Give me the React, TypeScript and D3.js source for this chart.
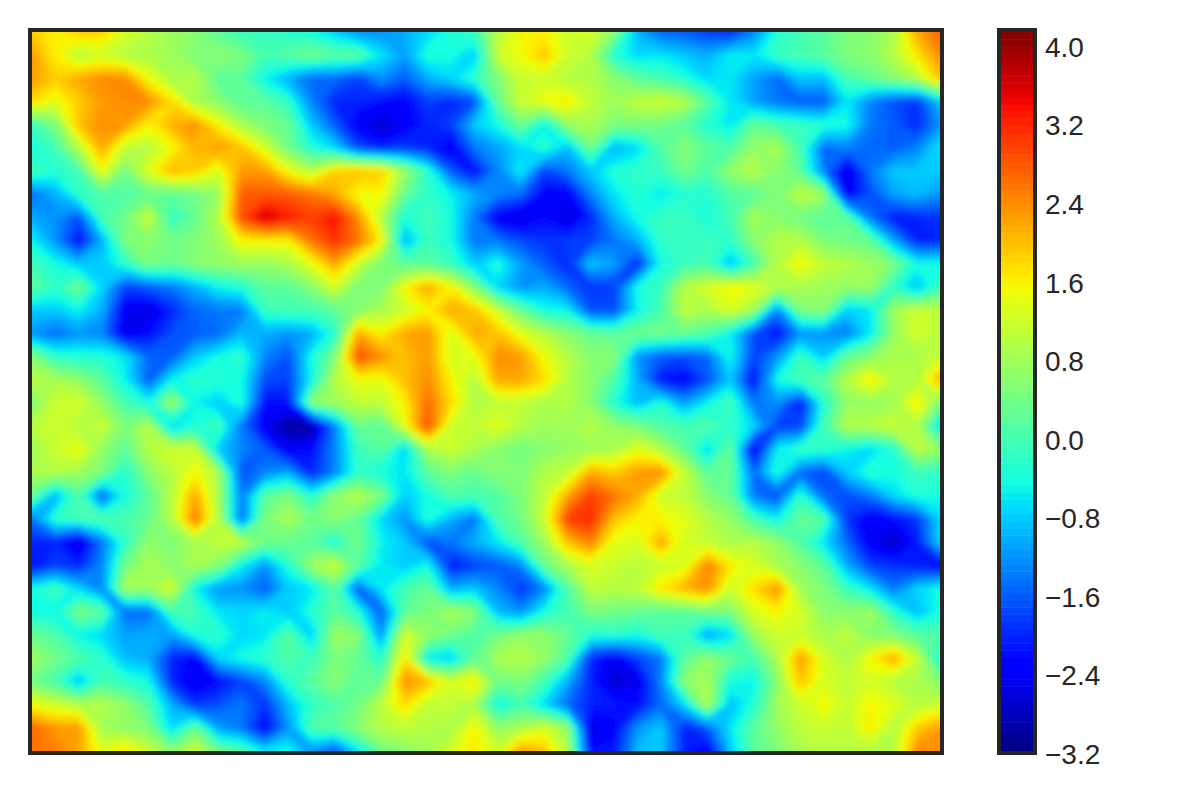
import { useMemo } from "react";
import * as d3 from "d3";

const WIDTH = 1200;
const HEIGHT = 800;

const tickValues = [4.0, 3.2, 2.4, 1.6, 0.8, 0.0, -0.8, -1.6, -2.4, -3.2];
const tickLabels = ["4.0", "3.2", "2.4", "1.6", "0.8", "0.0", "\u22120.8", "\u22121.6", "\u22122.4", "\u22123.2"];
const colorDomain = [-3.17, 4.15];
const levelCount = 100;

// values, 40 columns by 32 rows
const heatRows = [
  [1.9,1.6,1.9,1.9,1.3,1.0,0.8,0.6,0.2,-0.1,-0.1,-0.3,-0.4,-0.8,-1.2,-1.2,-1.0,-0.7,-0.3,-0.1,1.0,1.6,1.6,1.2,1.3,0.6,-1.0,-1.5,-1.6,-1.8,-2.0,-1.3,-0.3,0,0.2,0.5,0.6,0.9,2.2,2.7],
  [2.3,1.6,1.0,1.2,1.0,0.9,0.8,0.5,0.6,0.5,0.0,0.2,0.4,0.2,0.2,-0.6,-1.1,-0.3,-0.4,-0.8,1.2,1.5,2.0,1.2,1.0,-0.3,-0.7,-0.6,-0.8,-1.0,-0.5,-0.6,-0.1,0,0.2,0.5,0.6,1.0,1.7,2.4],
  [2.3,1.9,2.2,2.4,2.4,1.5,0.9,1.0,0.2,0.2,-0.5,-1.0,-1.5,-1.5,-1.8,-1.2,-1.6,-1.0,-0.7,-0.2,0.5,1.2,1.2,1.0,1.0,0.6,0.2,0.0,-0.3,-0.7,-0.6,-1.1,-1.5,-0.8,-0.9,0.0,0.3,0.6,1.0,2.0],
  [1.8,1.4,1.9,2.3,2.4,2.4,1.8,0.9,0.6,0.2,0.2,-0.2,-1.3,-2.0,-2.0,-2.2,-2.3,-1.8,-2.0,-1.7,0.3,1.2,1.5,1.7,1.1,0.8,1.1,1.2,1.0,0.2,-0.6,-1.1,-1.4,-1.6,-1.6,-0.6,-1.3,-1.7,-1.9,-0.8],
  [-0.1,0.5,2.0,2.4,2.3,1.6,2.1,2.4,1.6,0.9,0.5,0.3,-0.8,-1.6,-2.4,-2.7,-2.4,-2.0,-1.8,-0.8,-0.4,0.4,-0.5,0.7,0.9,0.5,0.5,0.4,0.2,-0.3,-0.6,0.3,0.0,-0.1,-0.3,-0.4,-1.4,-1.6,-2.0,-1.2],
  [-0.4,0.0,1.0,2.2,1.1,1.0,1.5,2.1,2.3,2.0,1.3,0.4,-0.3,-0.7,-1.7,-2.0,-1.8,-2.0,-2.4,-1.4,-1.1,-0.7,-0.2,-0.9,0.4,-1.0,-0.7,0.1,0.6,0.2,0.1,0.7,0.9,0.0,-1.5,-1.3,-1.5,-1.6,-1.3,-0.6],
  [0.0,-0.3,0.0,1.5,0.4,1.4,2.1,1.9,1.3,2.3,2.3,1.5,1.0,1.9,2.0,1.9,0.8,-0.2,-1.6,-2.2,-1.3,-0.5,-1.8,-1.4,-0.8,-0.3,-0.2,-0.1,0.4,0.1,0.7,1.0,0.6,0.2,-1.3,-2.6,-1.4,-0.8,-0.8,-0.8],
  [-1.5,-1.0,-0.2,0.1,0.1,0.3,0.2,0.4,0.7,2.8,2.8,2.8,2.6,2.2,1.5,1.6,0.3,-0.2,-0.5,-1.0,-1.3,-1.5,-2.3,-2.4,-1.3,-0.6,-0.3,-0.6,-0.3,-0.3,0.1,0.2,0.5,1.1,0.8,-2.4,-1.7,-1.1,-0.9,-1.2],
  [-1.0,-1.2,-1.7,0.0,0.4,1.2,-0.2,0.3,1.0,2.9,3.7,3.3,3.0,3.4,2.4,1.0,-0.4,0.0,-0.4,-1.4,-2.4,-2.6,-2.2,-2.6,-2.0,-1.0,-0.4,-0.1,-0.1,-0.4,0.0,0.9,0.6,0.4,0.2,0.2,-1.4,-2.1,-2.0,-1.9],
  [-0.5,-1.2,-2.2,-1.0,0.5,0.6,0.4,0.5,0.8,1.6,1.6,1.6,2.6,3.1,2.6,1.6,-1.0,-0.1,-0.4,-1.4,-1.4,-1.7,-1.9,-1.8,-1.8,-1.4,-1.0,-0.2,-0.1,-0.1,-0.2,0.6,1.0,1.0,0.5,0.4,0.3,-1.0,-2.0,-2.0],
  [0.0,-0.4,-0.8,-0.8,-0.2,0.5,0.3,0.6,0.7,0.8,0.7,0.9,1.4,2.2,1.2,0.5,0.2,0.2,-0.1,-0.8,-0.3,-1.1,-1.6,-2.0,-0.8,-1.1,-2.0,-0.4,-0.1,0.0,-0.9,0.0,1.0,1.6,1.1,1.0,0.8,0.5,-0.4,-0.4],
  [0.2,-0.2,0.4,-0.7,-1.8,-1.6,-1.4,-1.0,-0.5,-0.3,0.2,0.2,0.6,1.3,0.5,0.5,1.6,2.2,1.6,0.6,-0.7,-1.2,-1.0,-1.5,-1.9,-1.8,-0.4,-0.1,1.0,1.3,1.6,1.4,1.0,0.9,0.8,0.7,0.8,-0.2,-0.9,-0.1],
  [-0.8,-0.8,-0.5,-1.0,-2.4,-2.6,-2.0,-1.5,-1.4,-1.4,-0.1,0.0,0.0,0.2,0.6,0.9,1.2,1.6,2.2,2.0,1.2,0.3,-0.4,-0.5,-1.7,-1.7,-0.5,0.0,1.1,0.9,1.3,0.8,-1.3,0.5,0.6,-0.8,-0.6,0.8,1.2,1.1],
  [-1.2,-1.5,-1.2,-1.3,-2.5,-2.2,-1.7,-1.6,-1.5,-0.9,-1.0,-1.2,-1.0,-0.3,2.2,1.6,2.2,2.3,1.3,2.2,2.0,1.4,1.0,0.6,0.3,0.2,0.4,0.4,0.3,0.1,-0.5,-1.7,-2.2,-1.2,-1.2,-1.4,-0.6,0.7,1.3,1.0],
  [0.6,-0.2,-0.3,-0.3,-0.6,-1.5,-1.6,-0.8,-0.4,-0.2,-1.3,-1.7,-0.4,0.5,2.9,2.4,2.0,2.3,1.3,1.4,2.4,2.3,1.5,1.0,0.6,0.6,-1.2,-1.6,-1.7,-1.5,-0.4,-1.8,-1.2,-0.1,-0.8,0.3,0.6,0.9,0.9,1.2],
  [1.0,0.9,0.7,0.2,-0.5,-1.6,-0.5,-0.2,-0.3,-0.4,-1.7,-1.8,-0.5,1.0,1.5,1.4,2.0,2.4,1.6,1.0,2.2,2.2,1.8,1.0,0.6,0.1,-1.0,-2.1,-2.3,-1.7,-0.8,-2.2,-0.4,0.0,0.2,1.0,1.7,1.0,1.0,2.2],
  [0.5,1.2,1.3,0.7,0.0,-0.4,0.8,-0.5,-0.8,-0.3,-2.2,-2.2,0.6,0.8,1.1,1.1,1.6,2.7,1.8,0.9,1.1,1.1,0.9,1.0,0.6,-0.3,-0.9,-0.3,-1.1,-0.5,0.0,-1.4,-1.2,-2.1,-0.3,0.7,0.7,0.8,1.7,0.5],
  [1.0,1.2,1.0,1.2,0.5,1.0,-0.8,-0.3,0.0,-1.4,-2.4,-3.0,-3.0,-1.3,0.3,0.2,1.4,2.9,1.2,1.1,1.4,1.0,0.8,0.8,1.0,0.7,0.5,0.1,0.0,0.1,-0.2,-0.7,-1.8,-1.8,0.0,1.0,1.0,1.2,1.0,-0.7],
  [0.8,1.2,1.5,0.7,0.2,1.0,1.3,1.2,-0.8,-1.3,-1.6,-2.4,-2.2,-1.3,-0.1,0.2,-0.8,0.9,1.2,0.9,0.6,0.4,0.6,0.7,0.8,0.9,1.4,1.0,0.3,-0.7,0.3,-2.5,-0.5,-0.1,-0.2,-0.5,-0.7,-0.3,1.1,0.7],
  [0.9,1.0,0.8,0.5,-0.3,0.6,1.0,1.6,0.9,-1.7,-1.3,-1.0,-2.0,-1.3,-0.2,-0.4,-0.6,0.2,0.5,0.3,0.6,0.5,1.0,1.1,2.2,1.9,2.3,2.4,1.2,0.2,0.3,-1.5,-0.3,-1.5,-1.8,-0.8,-0.2,-0.4,-0.1,-0.2],
  [0.3,-1.0,0.1,-1.6,-0.4,0.2,1.0,2.2,0.9,-1.4,0.2,0.5,-0.3,0.7,1.0,0.5,-0.8,-0.4,0.1,0.0,0.1,0.5,1.1,2.2,3.0,2.6,2.2,1.2,1.1,0.6,0.3,-1.4,-1.7,-0.2,-1.5,-1.7,-1.4,-0.7,-0.3,-0.4],
  [-1.4,-0.2,0.0,0.1,0.0,0.3,1.0,2.6,1.0,-1.5,0.5,0.9,0.4,0.6,0.3,-0.7,-1.2,-0.3,-1.0,-1.4,0.1,0.4,1.2,3.0,3.2,2.0,1.6,1.6,1.4,1.0,0.7,0.0,-0.5,0.3,0.1,-1.9,-2.4,-2.2,-1.9,-0.7],
  [-2.0,-2.0,-2.7,-1.4,-0.2,0.7,0.5,0.9,1.1,1.1,0.4,0.3,0.2,-0.4,0.4,-0.5,-0.8,-1.7,-1.4,-1.0,-0.6,0.1,0.8,2.0,2.5,1.4,1.3,2.2,1.3,1.1,0.9,1.0,0.7,0.1,-0.6,-1.5,-2.4,-2.8,-2.1,-0.7],
  [-2.2,-1.8,-2.0,-1.3,0.4,0.9,0.6,0.9,0.6,-0.5,-1.2,-0.3,0.8,1.2,0.2,-0.6,-0.8,-0.4,-2.1,-1.8,-1.6,-1.3,0.3,0.9,1.3,1.2,1.0,1.2,1.3,2.5,1.7,1.3,0.9,0.6,0.2,-1.0,-1.8,-1.9,-2.1,-2.3],
  [-0.4,0.0,-0.7,-1.3,0.9,0.8,1.3,-0.5,-1.2,-1.2,-1.6,-0.8,-0.6,0.2,-1.6,-0.6,0.0,0.3,-1.0,-0.8,-1.3,-1.9,-1.3,0.1,1.1,1.0,1.1,1.7,2.1,2.4,1.2,1.8,2.4,0.8,0.5,-0.1,-0.6,-1.4,-0.7,-0.4],
  [-0.4,-0.5,0.5,0.2,-1.5,-1.5,0.0,0.0,-0.6,-0.7,-0.5,-0.8,-0.3,0.2,-0.3,-1.6,0.2,0.5,0.9,0.6,-0.9,-1.2,-0.4,0.0,0.5,0.4,0.3,0.2,0.2,0.4,0.5,1.3,1.6,1.3,0.6,0.6,0.8,-0.2,-0.9,-0.4],
  [0.3,0.1,-0.5,-0.7,-1.1,-1.0,-1.1,-0.3,-0.2,-0.7,-0.6,0.2,-0.8,0.8,0.6,-1.2,1.3,0.7,0.4,0.1,0.4,0.7,0.7,0.3,-0.3,-0.2,-0.4,0.0,-0.1,-1.1,-0.7,0.8,1.2,1.2,0.9,1.1,0.6,0.5,0.2,0.1],
  [0.8,0.4,0.1,-0.2,-0.9,-1.0,-2.0,-2.3,-0.7,-0.4,-0.2,0.1,-0.1,0.5,0.3,-0.3,1.7,-0.6,-0.8,0.2,0.9,1.0,0.7,0.1,-2.0,-2.4,-1.8,-1.4,0.2,0.7,0.3,0.0,0.9,2.3,1.3,0.9,1.6,2.2,1.2,-0.4],
  [0.4,0.0,-0.9,0.0,-0.2,-0.4,-2.0,-2.5,-2.2,-1.8,-1.3,-0.2,0.2,0.6,0.2,0.3,2.4,2.0,1.3,1.7,0.4,0.5,0.0,-1.0,-2.0,-2.7,-2.5,-1.3,0.6,0.9,-0.4,-0.5,0.6,2.0,1.3,1.1,1.3,1.0,0.9,0.6],
  [1.5,1.2,1.0,1.0,0.7,0.1,-1.0,-1.9,-1.7,-1.4,-1.9,-0.9,-0.2,0.1,0.4,1.1,1.8,1.1,1.1,0.9,-0.5,0.0,-0.7,-1.5,-2.0,-2.1,-2.2,-1.5,-0.7,1.0,-0.9,-0.3,0.8,1.2,1.6,1.1,1.6,1.4,1.0,1.2],
  [2.7,2.3,2.3,0.8,0.7,0.5,-0.7,0.3,-1.1,-1.4,-2.3,-1.2,0.1,0.2,0.6,1.0,1.1,1.0,0.9,1.6,0.7,0.9,1.3,0.7,-2.6,-2.3,-1.2,-0.8,-2.0,-1.6,-0.6,0.2,0.7,1.1,1.2,1.1,1.7,1.0,1.9,2.3],
  [2.6,2.5,2.2,1.4,1.7,1.2,0.6,1.2,0.4,0.1,-0.6,-0.4,-1.2,-1.7,-0.6,0.4,0.6,0.8,1.3,1.7,1.2,2.3,2.0,1.0,-2.2,-2.1,-0.9,-0.8,-2.0,-2.4,-0.8,0.2,0.5,0.9,1.0,1.0,1.0,1.0,2.4,2.4],
];

const rowCount = heatRows.length;
const colCount = heatRows[0].length;

const plot = { left: 30, right: 942, top: 30, bottom: 753 };
const bar = { left: 999, right: 1035, top: 30, bottom: 753 };
const frameColor = "#262626";

const jetR = d3.scaleLinear([0, 0.35, 0.66, 0.89, 1], [0, 0, 255, 255, 128]);
const jetG = d3.scaleLinear([0, 0.125, 0.375, 0.64, 0.91, 1], [0, 0, 255, 255, 0, 0]);
const jetB = d3.scaleLinear([0, 0.11, 0.34, 0.65, 1], [128, 255, 255, 0, 0]);
const jet = (t: number) => d3.rgb(jetR(t), jetG(t), jetB(t)).formatHex();

export default function App() {
  const levels = d3.range(levelCount).map(
    i => colorDomain[0] + ((colorDomain[1] - colorDomain[0]) * i) / levelCount
  );
  const colorScale = d3.scaleLinear(colorDomain, [0, 1]);
  const levelColor = (v: number) =>
    jet(colorScale(v + (colorDomain[1] - colorDomain[0]) / levelCount / 2));

  const xScale = d3.scaleLinear([0, colCount - 1], [plot.left + 2, plot.right - 2]);
  const yScale = d3.scaleLinear([0, rowCount - 1], [plot.top + 2, plot.bottom - 2]);
  const barScale = d3.scaleLinear(colorDomain, [bar.bottom - 2, bar.top + 2]);

  const paths = useMemo(() => {
    // one row and column of padding so the contours run past the frame
    const padded: number[] = [];
    for (let j = -1; j <= rowCount; j++) {
      for (let i = -1; i <= colCount; i++) {
        const r = heatRows[Math.max(0, Math.min(rowCount - 1, j))];
        padded.push(r[Math.max(0, Math.min(colCount - 1, i))]);
      }
    }
    const contours = d3.contours().size([colCount + 2, rowCount + 2]).thresholds(levels)(padded);
    const path = d3.geoPath(
      d3.geoTransform({
        point(x, y) {
          this.stream.point(xScale(x - 1.5), yScale(y - 1.5));
        },
      })
    );
    return contours.map(c => ({ value: c.value, d: path(c) ?? "" }));
  }, []);

  return (
    <svg
      width={WIDTH}
      height={HEIGHT}
      style={{ position: "absolute", left: 0, top: 0, display: "block", background: "#fff" }}
    >
      <defs>
        <clipPath id="plot-clip">
          <rect x={plot.left} y={plot.top} width={plot.right - plot.left} height={plot.bottom - plot.top} />
        </clipPath>
        <filter id="soften" filterUnits="userSpaceOnUse" x={-20} y={-20} width={WIDTH + 40} height={HEIGHT + 40}>
          <feGaussianBlur stdDeviation={3} />
        </filter>
      </defs>

      <g clipPath="url(#plot-clip)">
        <g filter="url(#soften)">
          {paths.map(p => (
            <path key={p.value} d={p.d} fill={levelColor(p.value)} />
          ))}
        </g>
      </g>
      <rect
        x={plot.left}
        y={plot.top}
        width={plot.right - plot.left}
        height={plot.bottom - plot.top}
        fill="none"
        stroke={frameColor}
        strokeWidth={4}
      />

      <g>
        {levels.map(v => {
          const step = (colorDomain[1] - colorDomain[0]) / levelCount;
          return (
            <rect
              key={v}
              x={bar.left}
              width={bar.right - bar.left}
              y={barScale(v + step)}
              height={barScale(v) - barScale(v + step) + 0.5}
              fill={levelColor(v)}
            />
          );
        })}
      </g>
      <rect
        x={bar.left}
        y={bar.top}
        width={bar.right - bar.left}
        height={bar.bottom - bar.top}
        fill="none"
        stroke={frameColor}
        strokeWidth={4}
      />

      <g fontFamily="Liberation Sans, Arial, sans-serif" fontSize={28} fill={frameColor}>
        {tickValues.map((v, i) => (
          <text key={v} x={1045} y={barScale(v)} dy="0.36em">
            {tickLabels[i]}
          </text>
        ))}
      </g>
    </svg>
  );
}
